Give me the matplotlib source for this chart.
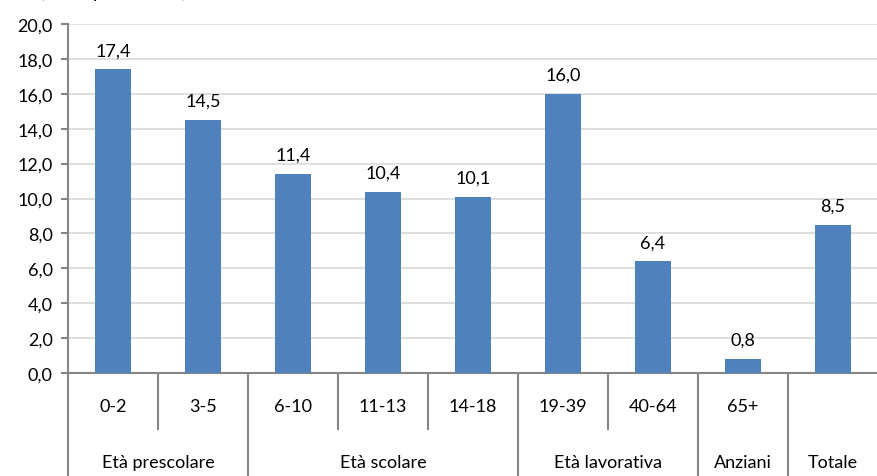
import numpy as np
import matplotlib.pyplot as plt
import matplotlib.transforms as mtransforms

# Data
classi = ["0-2", "3-5", "6-10", "11-13", "14-18", "19-39", "40-64", "65+", ""]
valori = [17.4, 14.5, 11.4, 10.4, 10.1, 16.0, 6.4, 0.8, 8.5]
gruppi = ["Età prescolare", "Età scolare", "Età lavorativa", "Anziani", "Totale"]
gruppi_n = [2, 3, 2, 1, 1]  # number of classes in each group

plt.rcParams['font.family'] = ['Lato', 'DejaVu Sans']
grigio = '#868686'
fs = 13

fig = plt.figure(figsize=(8.78, 4.77), dpi=100)
ax = fig.add_axes([68 / 878, 103 / 477, 810 / 878, 349 / 477])

x = np.arange(len(valori))
ax.bar(x, valori, width=0.39, color='#4f81bd', zorder=3)
for xi, v in zip(x, valori):
    ax.annotate(f"{v:.1f}".replace('.', ','), (xi, v), xytext=(0, 8),
                textcoords='offset points', ha='center', va='bottom', fontsize=fs)

ax.set_xlim(-0.5, len(valori) - 0.5)
ax.set_ylim(0, 20)
yt = np.arange(0, 21, 2)
ax.set_yticks(yt)
ax.set_yticklabels([f"{t:.1f}".replace('.', ',') for t in yt], fontsize=fs)
ax.yaxis.grid(True, color='#d9d9d9', linewidth=1.2, zorder=0)
ax.tick_params(axis='y', direction='out', length=5, color=grigio, width=1.5, pad=6)
ax.set_xticks([])
for s in ['top', 'right']:
    ax.spines[s].set_visible(False)
ax.spines['left'].set_color(grigio)
ax.spines['left'].set_linewidth(1.5)
ax.spines['bottom'].set_color(grigio)
ax.spines['bottom'].set_linewidth(1.5)

# two-level category axis below the plot
trans = mtransforms.blended_transform_factory(ax.transData, ax.transAxes)
confini = np.concatenate([[0], np.cumsum(gruppi_n)]) - 0.5
for i in range(1, len(valori)):
    b = i - 0.5
    basso = -0.30 if b in confini else -0.16
    ax.plot([b, b], [0, basso], transform=trans, color=grigio, lw=1.5, clip_on=False)
ax.plot([-0.5, -0.5], [0, -0.30], transform=trans, color=grigio, lw=1.5, clip_on=False)

for xi, lab in zip(x, classi):
    ax.text(xi, -0.095, lab, transform=trans, ha='center', va='center', fontsize=fs)
for g, a, b in zip(gruppi, confini[:-1], confini[1:]):
    ax.text((a + b) / 2, -0.255, g, transform=trans, ha='center', va='center', fontsize=fs)

# title line cut off at the top edge, as in the original
fig.text(40 / 878, 1.0 + 7 / 477, "(valori percentuali)", ha='left', va='center', fontsize=fs)

fig.savefig('out.png', dpi=100)
